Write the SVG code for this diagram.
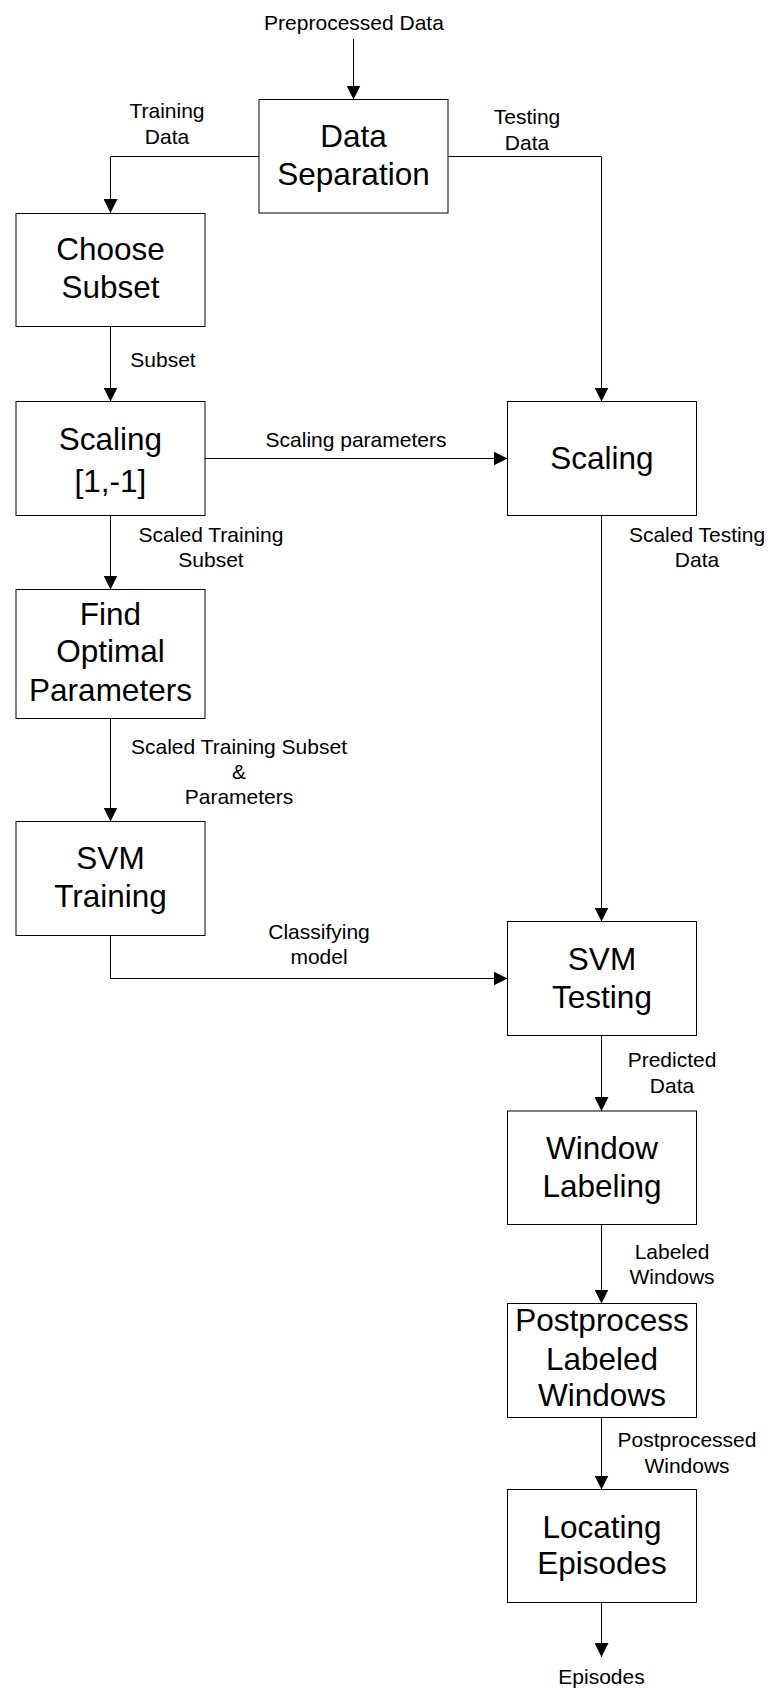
<svg xmlns="http://www.w3.org/2000/svg" width="771" height="1688" viewBox="0 0 771 1688">
  <style>
    .box { fill: #ffffff; stroke: #000000; stroke-width: 1; }
    .edge { fill: none; stroke: #000000; stroke-width: 1; }
    .title { font-family: "Liberation Sans", Arial, sans-serif; font-size: 31.5px; fill: #000000; text-anchor: middle; }
    .lbl { font-family: "Liberation Sans", Arial, sans-serif; font-size: 21px; fill: #000000; text-anchor: middle; }
  </style>
  <defs>
    <marker id="arrow" markerUnits="userSpaceOnUse" markerWidth="14" markerHeight="14" refX="14" refY="7" orient="auto">
      <path d="M0,0 L14,7 L0,14 Z" fill="#000000"/>
    </marker>
  </defs>
  <rect width="771" height="1688" fill="#ffffff"/>

  <!-- connectors -->
  <g id="connectors">
    <path class="edge" d="M353.5,39 V99.5" marker-end="url(#arrow)"/>
    <path class="edge" d="M259,156.5 H110.5 V213" marker-end="url(#arrow)"/>
    <path class="edge" d="M448,156.5 H601.5 V401.5" marker-end="url(#arrow)"/>
    <path class="edge" d="M110.5,326.5 V401.5" marker-end="url(#arrow)"/>
    <path class="edge" d="M204.5,458.5 H507.5" marker-end="url(#arrow)"/>
    <path class="edge" d="M110.5,515.5 V589.5" marker-end="url(#arrow)"/>
    <path class="edge" d="M110.5,718.5 V821.5" marker-end="url(#arrow)"/>
    <path class="edge" d="M110.5,935.5 V978.5 H507.5" marker-end="url(#arrow)"/>
    <path class="edge" d="M601.5,515.5 V921.5" marker-end="url(#arrow)"/>
    <path class="edge" d="M601.5,1035.5 V1111" marker-end="url(#arrow)"/>
    <path class="edge" d="M601.5,1224.5 V1303.5" marker-end="url(#arrow)"/>
    <path class="edge" d="M601.5,1417.5 V1489.5" marker-end="url(#arrow)"/>
    <path class="edge" d="M601.5,1602.5 V1657" marker-end="url(#arrow)"/>

    <text class="lbl" x="354" y="29.5">Preprocessed Data</text>
    <text class="lbl" x="167" y="117.5">Training</text>
    <text class="lbl" x="167" y="143.5">Data</text>
    <text class="lbl" x="527" y="124">Testing</text>
    <text class="lbl" x="527" y="150">Data</text>
    <text class="lbl" x="163" y="366.5">Subset</text>
    <text class="lbl" x="356" y="446.5">Scaling parameters</text>
    <text class="lbl" x="211" y="541.5">Scaled Training</text>
    <text class="lbl" x="211" y="566.5">Subset</text>
    <text class="lbl" x="697" y="541.5">Scaled Testing</text>
    <text class="lbl" x="697" y="566.5">Data</text>
    <text class="lbl" x="239" y="753.5">Scaled Training Subset</text>
    <text class="lbl" x="239" y="778.5">&amp;</text>
    <text class="lbl" x="239" y="804">Parameters</text>
    <text class="lbl" x="319" y="938.5">Classifying</text>
    <text class="lbl" x="319" y="963.5">model</text>
    <text class="lbl" x="672" y="1066.5">Predicted</text>
    <text class="lbl" x="672" y="1092.5">Data</text>
    <text class="lbl" x="672" y="1258.5">Labeled</text>
    <text class="lbl" x="672" y="1284">Windows</text>
    <text class="lbl" x="687" y="1446.5">Postprocessed</text>
    <text class="lbl" x="687" y="1472.5">Windows</text>
    <text class="lbl" x="601.5" y="1684">Episodes</text>
  </g>

  <!-- process nodes -->
  <g id="data-separation">
    <rect class="box" x="259" y="99.5" width="189" height="113.5"/>
    <text class="title" x="353.5" y="147">Data</text>
    <text class="title" x="353.5" y="185">Separation</text>
  </g>
  <g id="choose-subset">
    <rect class="box" x="16" y="213.5" width="189" height="113"/>
    <text class="title" x="110.5" y="260">Choose</text>
    <text class="title" x="110.5" y="298">Subset</text>
  </g>
  <g id="scaling-train">
    <rect class="box" x="16" y="401.5" width="189" height="114"/>
    <text class="title" x="110.5" y="449.5">Scaling</text>
    <text class="title" x="110.5" y="491.5">[1,-1]</text>
  </g>
  <g id="scaling-test">
    <rect class="box" x="507.5" y="401.5" width="189" height="114"/>
    <text class="title" x="602" y="468.5">Scaling</text>
  </g>
  <g id="find-parameters">
    <rect class="box" x="16" y="589.5" width="189" height="129"/>
    <text class="title" x="110.5" y="624.5">Find</text>
    <text class="title" x="110.5" y="662">Optimal</text>
    <text class="title" x="110.5" y="701">Parameters</text>
  </g>
  <g id="svm-training">
    <rect class="box" x="16" y="821.5" width="189" height="114"/>
    <text class="title" x="110.5" y="868.5">SVM</text>
    <text class="title" x="110.5" y="906.5">Training</text>
  </g>
  <g id="svm-testing">
    <rect class="box" x="507.5" y="921.5" width="189" height="114"/>
    <text class="title" x="602" y="969.5">SVM</text>
    <text class="title" x="602" y="1007.5">Testing</text>
  </g>
  <g id="window-labeling">
    <rect class="box" x="507.5" y="1111" width="189" height="113.5"/>
    <text class="title" x="602" y="1158.5">Window</text>
    <text class="title" x="602" y="1196.5">Labeling</text>
  </g>
  <g id="postprocess">
    <rect class="box" x="507.5" y="1303.5" width="189" height="114"/>
    <text class="title" x="602" y="1331">Postprocess</text>
    <text class="title" x="602" y="1369.5">Labeled</text>
    <text class="title" x="602" y="1406">Windows</text>
  </g>
  <g id="locating-episodes">
    <rect class="box" x="507.5" y="1489.5" width="189" height="113"/>
    <text class="title" x="602" y="1537.5">Locating</text>
    <text class="title" x="602" y="1574">Episodes</text>
  </g>
</svg>
